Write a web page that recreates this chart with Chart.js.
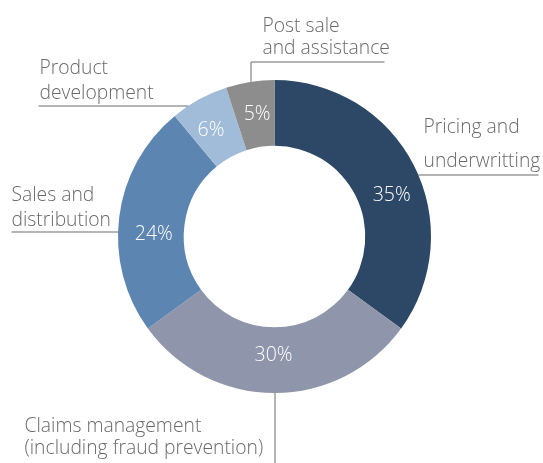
<!DOCTYPE html>
<html>
<head>
<meta charset="utf-8">
<script src="https://cdn.jsdelivr.net/npm/chart.js@4/dist/chart.umd.min.js"></script>
<style>
html,body{margin:0;padding:0;background:#fff;}
canvas{display:block;}
</style>
</head>
<body>
<canvas id="c" width="543" height="463"></canvas>
<script>
// Data
const categories = [
  "Pricing and underwritting",
  "Claims management (including fraud prevention)",
  "Sales and distribution",
  "Product development",
  "Post sale and assistance"
];
const values = [35, 30, 24, 6, 5];
const valueLabels = ["35%", "30%", "24%", "6%", "5%"];
const colors = ["#2d4866", "#8f95aa", "#5c85b1", "#a1bcd9", "#8d8d8d"];

// Category label lines (text only)
const labelLines = [
  ["Pricing and", "underwritting"],
  ["Claims management", "(including fraud prevention)"],
  ["Sales and", "distribution"],
  ["Product", "development"],
  ["Post sale", "and assistance"]
];

const TEXT_COLOR = "#6a6a6a";
const LINE_COLOR = "#6a6a6a";
const FONT = "300 19.3px 'Open Sans'";

const labelPlugin = {
  id: 'labels',
  afterDatasetsDraw(chart) {
    const ctx = chart.ctx;
    const meta = chart.getDatasetMeta(0);
    const arc0 = meta.data[0];
    const cx = arc0.x, cy = arc0.y, R = arc0.outerRadius, r = arc0.innerRadius;

    // value labels inside the ring
    const nudges = [[7, 15], [-1, -5], [2, 13], [-4, 2], [2, 0]];
    ctx.save();
    ctx.fillStyle = "#ffffff";
    ctx.font = "300 19.5px 'Open Sans'";
    ctx.textAlign = "center";
    ctx.textBaseline = "middle";
    meta.data.forEach((a, i) => {
      const mid = (a.startAngle + a.endAngle) / 2;
      const rr = (R + r) / 2;
      const x = cx + Math.cos(mid) * rr + nudges[i][0];
      const y = cy + Math.sin(mid) * rr + nudges[i][1];
      ctx.fillText(valueLabels[i], x, y);
    });
    ctx.restore();

    // category labels + leader lines
    ctx.save();
    ctx.font = FONT;
    ctx.fillStyle = TEXT_COLOR;
    ctx.textAlign = "left";
    ctx.textBaseline = "alphabetic";
    ctx.strokeStyle = LINE_COLOR;
    ctx.lineWidth = 1;

    const outerXAtY = (y, side) => cx + side * Math.sqrt(Math.max(0, R * R - (y - cy) * (y - cy)));
    const outerYAtX = (x, side) => cy + side * Math.sqrt(Math.max(0, R * R - (x - cx) * (x - cx)));

    const line = (x1, y1, x2, y2) => {
      ctx.beginPath();
      ctx.moveTo(x1, y1);
      ctx.lineTo(x2, y2);
      ctx.stroke();
    };

    // Pricing and underwritting (right)
    ctx.fillText(labelLines[0][0], cx + 149, cy - 104);
    ctx.fillText(labelLines[0][1], cx + 149, cy - 70);
    line(outerXAtY(cy - 61.5, 1), cy - 61.5, cx + 264, cy - 61.5);

    // Claims management (bottom)
    ctx.fillText(labelLines[1][0], cx - 250, cy + 195);
    ctx.fillText(labelLines[1][1], cx - 250, cy + 217);
    line(cx + 0.5, cy + R, cx + 0.5, chart.height);

    // Sales and distribution (left)
    ctx.fillText(labelLines[2][0], cx - 263, cy - 36);
    ctx.fillText(labelLines[2][1], cx - 263, cy - 11);
    line(cx - 263, cy - 4.5, outerXAtY(cy - 4.5, -1), cy - 4.5);

    // Product development (upper left)
    ctx.fillText(labelLines[3][0], cx - 235, cy - 163);
    ctx.fillText(labelLines[3][1], cx - 235, cy - 138);
    line(cx - 236, cy - 130.5, outerXAtY(cy - 130.5, -1), cy - 130.5);

    // Post sale and assistance (top)
    ctx.fillText(labelLines[4][0], cx - 12, cy - 205);
    ctx.fillText(labelLines[4][1], cx - 12, cy - 183);
    const vx = cx - 23.5;
    line(vx, cy - 174.5, vx, outerYAtX(vx, -1));
    line(vx, cy - 174.5, cx + 110, cy - 174.5);
    ctx.restore();
  }
};

new Chart(document.getElementById('c'), {
  type: 'doughnut',
  data: {
    labels: categories,
    datasets: [{
      data: values,
      backgroundColor: colors,
      borderWidth: 0
    }]
  },
  options: {
    responsive: false,
    animation: false,
    cutout: '58%',
    layout: { padding: { top: 80, bottom: 70, left: 118, right: 112 } },
    plugins: {
      legend: { display: false },
      tooltip: { enabled: false }
    }
  },
  plugins: [labelPlugin]
});
</script>
</body>
</html>
